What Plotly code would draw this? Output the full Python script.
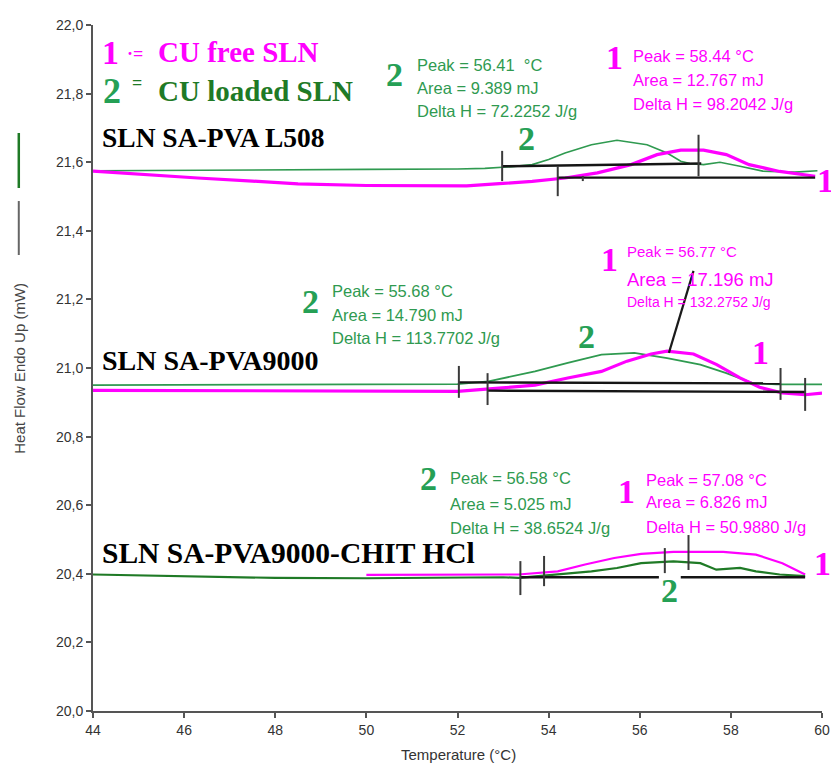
import plotly.graph_objects as go

# ---------------- data ----------------
x_ticks = [44, 46, 48, 50, 52, 54, 56, 58, 60]
y_tick_vals = [20.0, 20.2, 20.4, 20.6, 20.8, 21.0, 21.2, 21.4, 21.6, 21.8, 22.0]
y_tick_text = ["20,0", "20,2", "20,4", "20,6", "20,8", "21,0", "21,2", "21,4", "21,6", "21,8", "22,0"]

# SLN SA-PVA L508
l508_free_T = [44, 45, 46.3, 47.5, 48.5, 50, 51.5, 52.2, 53, 53.64, 54.36, 55.07, 55.81, 56.38, 56.9, 57.4, 57.9, 58.4, 59.07, 59.85]
l508_free_V = [21.574, 21.565, 21.554, 21.545, 21.537, 21.532, 21.530, 21.531, 21.538, 21.544, 21.554, 21.569, 21.593, 21.622, 21.635, 21.635, 21.622, 21.593, 21.573, 21.559]
l508_load_T = [44, 46, 48, 50, 52, 52.6, 53.2, 53.64, 54.0, 54.36, 54.94, 55.5, 56.16, 56.6, 56.9, 57.1, 57.4, 57.76, 58.2, 58.7, 59.4, 59.9]
l508_load_V = [21.575, 21.577, 21.578, 21.579, 21.580, 21.582, 21.587, 21.593, 21.608, 21.627, 21.651, 21.664, 21.651, 21.627, 21.603, 21.596, 21.593, 21.600, 21.588, 21.574, 21.571, 21.575]

# SLN SA-PVA9000
p9000_free_T = [44, 46, 48, 50, 52, 52.98, 53.7, 54.42, 55.16, 55.72, 56.25, 56.6, 57.18, 57.69, 58.2, 58.63, 59.13, 59.63, 60]
p9000_free_V = [20.935, 20.934, 20.932, 20.931, 20.932, 20.942, 20.950, 20.971, 20.990, 21.020, 21.041, 21.049, 21.041, 21.010, 20.971, 20.944, 20.927, 20.922, 20.927]
p9000_load_T = [44, 48, 52, 52.68, 53.7, 54.42, 55.16, 55.88, 56.6, 57.33, 57.9, 58.48, 59.0, 60]
p9000_load_V = [20.950, 20.951, 20.953, 20.961, 20.990, 21.015, 21.039, 21.044, 21.029, 21.010, 20.985, 20.956, 20.952, 20.952]

# SLN SA-PVA9000-CHIT HCl
chit_free_T = [50, 52, 53, 53.34, 54.2, 54.8, 55.44, 56.03, 56.74, 57.83, 58.55, 59.13, 59.63]
chit_free_V = [20.397, 20.397, 20.397, 20.398, 20.407, 20.427, 20.446, 20.458, 20.464, 20.464, 20.456, 20.431, 20.398]
chit_load_T = [44, 46, 48, 50, 52, 53, 53.34, 54.2, 54.94, 55.5, 56.03, 56.74, 57.33, 57.68, 58.2, 58.55, 59.07, 59.63]
chit_load_V = [20.398, 20.393, 20.388, 20.387, 20.390, 20.390, 20.388, 20.398, 20.407, 20.417, 20.431, 20.436, 20.431, 20.412, 20.417, 20.407, 20.398, 20.393]

# integration baselines (T start, T end / V start, V end)
base_T = [[52.98, 57.35], [54.2, 59.85], [52.03, 59.09], [52.66, 59.63], [53.38, 56.42], [56.9, 59.63]]
base_V = [[21.588, 21.596], [21.555, 21.555], [20.958, 20.955], [20.934, 20.930], [20.390, 20.390], [20.390, 20.390]]
# limit markers (T, V low, V high)
mark_T = [52.98, 57.29, 54.2, 54.75, 52.03, 52.66, 59.09, 59.63, 53.38, 53.9, 56.55, 57.07]
mark_V0 = [21.545, 21.559, 21.501, 21.545, 20.913, 20.892, 20.907, 20.875, 20.338, 20.364, 20.402, 20.411]
mark_V1 = [21.633, 21.680, 21.589, 21.560, 21.006, 20.985, 21.000, 20.971, 20.437, 20.452, 20.475, 20.513]
leader_T = [56.64, 57.18]
leader_V = [21.044, 21.283]

legend_free = "CU free SLN"
legend_load = "CU loaded SLN"
sample_names = ["SLN SA-PVA L508", "SLN SA-PVA9000", "SLN SA-PVA9000-CHIT HCl"]
l508_load_txt = ["Peak = 56.41  °C", "Area = 9.389 mJ", "Delta H = 72.2252 J/g"]
l508_free_txt = ["Peak = 58.44 °C", "Area = 12.767 mJ", "Delta H = 98.2042 J/g"]
p9000_load_txt = ["Peak = 55.68 °C", "Area = 14.790 mJ", "Delta H = 113.7702 J/g"]
p9000_free_txt = ["Peak = 56.77 °C", "Area = 17.196 mJ", "Delta H = 132.2752 J/g"]
chit_load_txt = ["Peak = 56.58 °C", "Area = 5.025 mJ", "Delta H = 38.6524 J/g"]
chit_free_txt = ["Peak = 57.08 °C", "Area = 6.826 mJ", "Delta H = 50.9880 J/g"]

# ---------------- styles ----------------
MAG = "#ff00ff"
GRN = "#2f9a50"
GRN_DARK = "#1f7a26"
GRN_DIG = "#25a055"
SERIF = "Liberation Serif"
SANS = "Liberation Sans"

fig = go.Figure()

def curve(T, V, color, width):
    fig.add_trace(go.Scatter(x=T, y=V, mode="lines", line=dict(color=color, width=width),
                             hoverinfo="skip", showlegend=False))

curve(l508_load_T, l508_load_V, GRN, 1.6)
curve(l508_free_T, l508_free_V, MAG, 3.2)
curve(p9000_load_T, p9000_load_V, GRN, 1.8)
curve(p9000_free_T, p9000_free_V, MAG, 3.2)
curve(chit_free_T, chit_free_V, MAG, 2.2)
curve(chit_load_T, chit_load_V, GRN_DARK, 2.2)

# baselines
bx, by = [], []
for t, v in zip(base_T, base_V):
    bx += t + [None]
    by += v + [None]
fig.add_trace(go.Scatter(x=bx, y=by, mode="lines", line=dict(color="#151515", width=2.4),
                         hoverinfo="skip", showlegend=False))
mx, my = [], []
for t, v0, v1 in zip(mark_T, mark_V0, mark_V1):
    mx += [t, t, None]
    my += [v0, v1, None]
fig.add_trace(go.Scatter(x=mx, y=my, mode="lines", line=dict(color="#3a3a3a", width=2),
                         hoverinfo="skip", showlegend=False))
fig.add_trace(go.Scatter(x=leader_T, y=leader_V, mode="lines", line=dict(color="#1a1a1a", width=2.2),
                         hoverinfo="skip", showlegend=False))

ann = []
def txt(x, y, s, color, size, family=SANS, xanchor="left", bold=False, xref="x"):
    if bold:
        s = "<b>" + s + "</b>"
    ann.append(dict(x=x, y=y, xref=xref, yref="y", text=s, showarrow=False, xanchor=xanchor,
                    yanchor="middle", font=dict(family=family, size=size, color=color)))

# legend-like header
txt(44.39, 21.921, "1", MAG, 34, SERIF, "center", True)
txt(44.93, 21.915, "·=", MAG, 18, SERIF, "center", True)
txt(45.39, 21.921, legend_free, MAG, 29, SERIF, "left", True)
txt(44.41, 21.808, "2", GRN_DIG, 36, SERIF, "center", True)
txt(44.96, 21.830, "=", GRN_DARK, 18, SERIF, "center", True)
txt(45.39, 21.808, legend_load, GRN_DARK, 29, SERIF, "left", True)

# sample names
txt(44.15, 21.671, sample_names[0], "black", 27.5, SERIF, "left", True)
txt(44.15, 21.023, sample_names[1], "black", 28, SERIF, "left", True)
txt(44.15, 20.461, sample_names[2], "black", 29.5, SERIF, "left", True)

# peak result blocks
for s, yy in zip(l508_load_txt, [21.883, 21.816, 21.749]):
    txt(51.06, yy, s, GRN, 16.5)
for s, yy in zip(l508_free_txt, [21.910, 21.840, 21.770]):
    txt(55.81, yy, s, MAG, 16.5)
for s, yy in zip(p9000_load_txt, [21.224, 21.155, 21.087]):
    txt(49.21, yy, s, GRN, 16.5)
for s, yy, fs in zip(p9000_free_txt, [21.341, 21.257, 21.192], [15, 18.5, 14]):
    txt(55.68, yy, s, MAG, fs)
for s, yy in zip(chit_load_txt, [20.679, 20.603, 20.534]):
    txt(51.79, yy, s, GRN, 16.5)
for s, yy in zip(chit_free_txt, [20.673, 20.609, 20.536]):
    txt(56.09, yy, s, MAG, 16.5)

# curve numbers
for x, y, s, c in [
    (50.62, 21.857, "2", GRN_DIG), (55.44, 21.904, "1", MAG),
    (53.51, 21.668, "2", GRN_DIG),
    (55.33, 21.315, "1", MAG), (48.78, 21.195, "2", GRN_DIG),
    (54.83, 21.093, "2", GRN_DIG), (58.65, 21.044, "1", MAG),
    (51.36, 20.679, "2", GRN_DIG), (55.72, 20.641, "1", MAG),
    (56.66, 20.350, "2", GRN_DIG),
]:
    txt(x, y, s, c, 34, SERIF, "center", True)
# numbers sitting at the right edge, just past the axis end
txt(1.005, 21.548, "1", MAG, 34, SERIF, "center", True, xref="paper")
txt(1.0, 20.429, "1", MAG, 34, SERIF, "center", True, xref="paper")

# axis titles
ann.append(dict(x=-0.1018, y=0.5, xref="paper", yref="paper", text="Heat Flow Endo Up (mW)",
                textangle=-90, showarrow=False, xanchor="center", yanchor="middle",
                font=dict(family=SANS, size=15, color="#444")))
ann.append(dict(x=0.5007, y=-0.063, xref="paper", yref="paper", text="Temperature (°C)",
                showarrow=False, xanchor="center", yanchor="middle",
                font=dict(family=SANS, size=15, color="#333")))

shapes = [
    dict(type="line", xref="paper", yref="paper", x0=-0.1018, x1=-0.1018, y0=0.7624, y1=0.8426,
         line=dict(color=GRN_DARK, width=2.5)),
    dict(type="line", xref="paper", yref="paper", x0=-0.1018, x1=-0.1018, y0=0.6647, y1=0.7434,
         line=dict(color="#666", width=2)),
]

# page body has an 8px margin; size the figure so the plot area lands where the reference has it
fig.update_layout(
    width=831, height=756,
    margin=dict(l=85, r=9, t=9, b=53),
    paper_bgcolor="white", plot_bgcolor="white",
    showlegend=False,
    annotations=ann, shapes=shapes,
    xaxis=dict(range=[44, 60], tickvals=x_ticks, ticktext=[str(v) for v in x_ticks],
               showgrid=False, zeroline=False, showline=True, linecolor="#555", linewidth=2,
               ticks="outside", ticklen=5, tickcolor="#555", tickwidth=1.5,
               tickfont=dict(family=SANS, size=14, color="#333")),
    yaxis=dict(range=[20, 22], tickvals=y_tick_vals, ticktext=y_tick_text,
               showgrid=False, zeroline=False, showline=True, linecolor="#555", linewidth=2,
               ticks="outside", ticklen=5, tickcolor="#555", tickwidth=1.5,
               tickfont=dict(family=SANS, size=14, color="#333")),
)

fig.write_html("out.html")
